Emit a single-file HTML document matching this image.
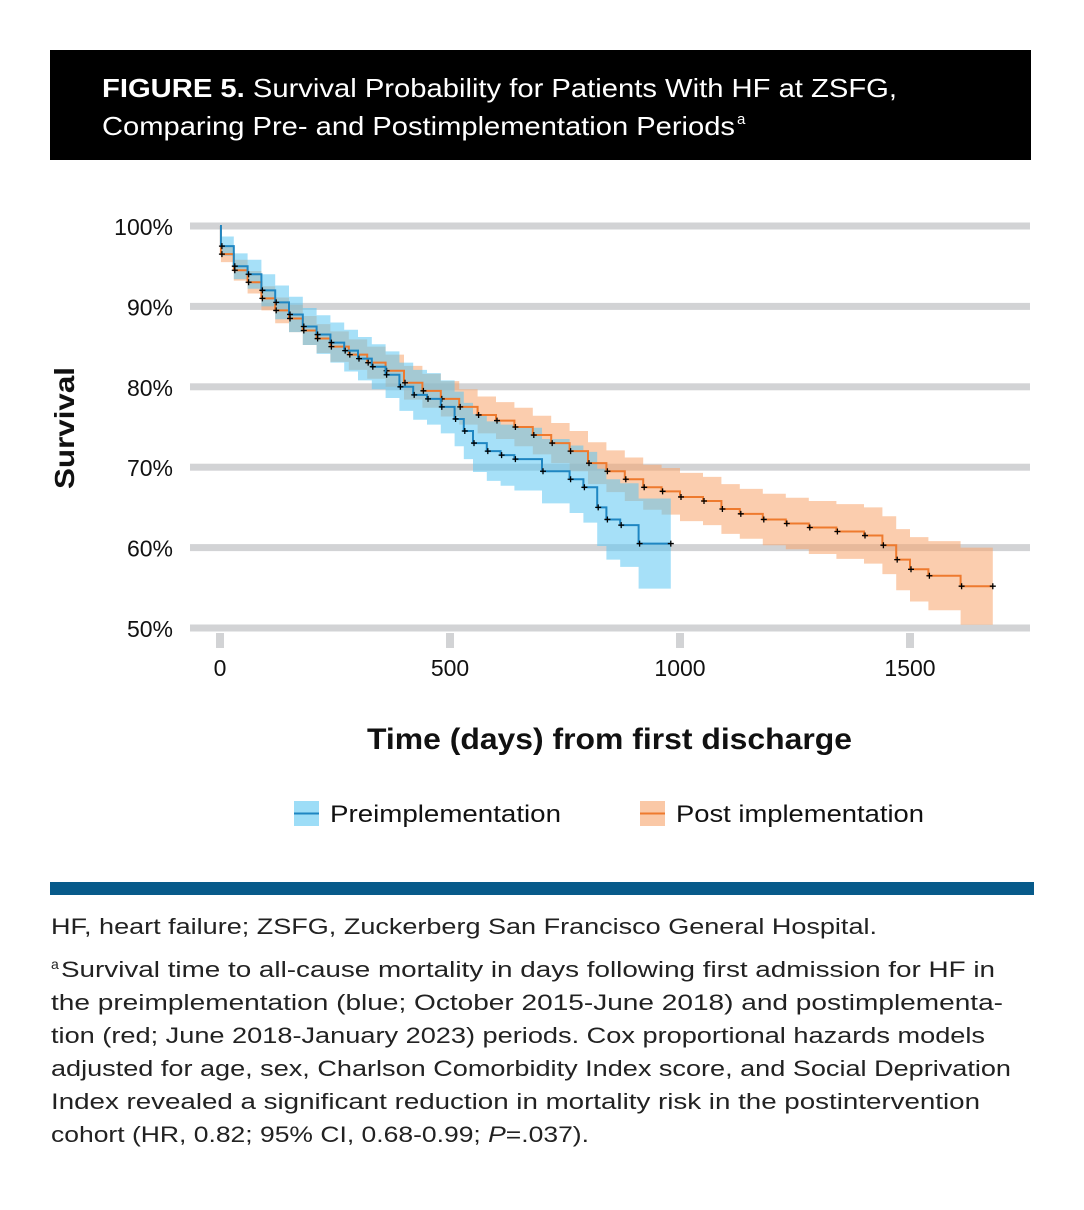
<!DOCTYPE html>
<html><head><meta charset="utf-8"><style>
body{margin:0;width:1084px;height:1210px;background:#fff;font-family:"Liberation Sans",sans-serif;position:relative;overflow:hidden}
</style></head><body>
<div style="position:absolute;left:50px;top:50px;width:981px;height:110px;background:#000"></div>
<div style="position:absolute;left:50px;top:882px;width:984px;height:13px;background:#075a8a"></div>
<svg id="chart" width="1084" height="1210" style="position:absolute;left:0;top:0" font-family="Liberation Sans, sans-serif">
<text x="102" y="97" font-size="26" fill="#fff" textLength="795" lengthAdjust="spacingAndGlyphs"><tspan font-weight="bold">FIGURE 5.</tspan> Survival Probability for Patients With HF at ZSFG,</text>
<text x="102" y="135" font-size="26" fill="#fff" textLength="633" lengthAdjust="spacingAndGlyphs">Comparing Pre- and Postimplementation Periods</text>
<text x="737" y="124" font-size="15" fill="#fff">a</text>
<g font-size="22.5" fill="#222">
<text x="51" y="934" textLength="826" lengthAdjust="spacingAndGlyphs">HF, heart failure; ZSFG, Zuckerberg San Francisco General Hospital.</text>
<text x="51" y="969" font-size="14">a</text>
<text x="61" y="977" textLength="934" lengthAdjust="spacingAndGlyphs">Survival time to all-cause mortality in days following first admission for HF in</text>
<text x="51" y="1010" textLength="952" lengthAdjust="spacingAndGlyphs">the preimplementation (blue; October 2015-June 2018) and postimplementa-</text>
<text x="51" y="1043" textLength="934" lengthAdjust="spacingAndGlyphs">tion (red; June 2018-January 2023) periods. Cox proportional hazards models</text>
<text x="51" y="1076" textLength="960" lengthAdjust="spacingAndGlyphs">adjusted for age, sex, Charlson Comorbidity Index score, and Social Deprivation</text>
<text x="51" y="1109" textLength="929" lengthAdjust="spacingAndGlyphs">Index revealed a significant reduction in mortality risk in the postintervention</text>
<text x="51" y="1142" textLength="538" lengthAdjust="spacingAndGlyphs">cohort (HR, 0.82; 95% CI, 0.68-0.99; <tspan font-style="italic">P</tspan>=.037).</text>
</g>
</svg>
<script>
const preT=[0,2,30,60,90,120,150,180,210,240,270,300,330,360,390,420,450,480,510,530,550,580,610,640,700,760,790,820,840,870,910];
const preS=[100,97.5,95,94,92,90.5,89,87.5,86.5,85.5,84.5,83.5,82.5,81.5,80,79,78.5,77.5,76,74.5,73,72,71.5,71,69.5,68.5,67.5,65,63.5,62.8,60.5];
const preHW=[0,1.2,1.6,1.8,2,2.1,2.2,2.3,2.4,2.5,2.6,2.7,2.8,2.9,3,3.1,3.2,3.3,3.4,3.5,3.6,3.7,3.8,3.9,4,4.2,4.4,4.8,5,5.2,5.6];
const preEnd=980;
const postT=[0,2,30,60,90,120,150,180,210,240,280,320,360,400,440,480,520,560,600,640,680,720,760,800,840,880,920,960,1000,1050,1090,1130,1180,1230,1280,1340,1400,1440,1470,1500,1540,1610];
const postS=[100,96.5,94.5,93,91,89.5,88.5,87,86,85,84,83,82,80.5,79.5,78.5,77.5,76.5,75.8,75,74,73,72,70.5,69.5,68.5,67.5,67,66.3,65.8,64.8,64.2,63.5,63,62.5,62,61.5,60.3,58.5,57.3,56.5,55.2];
const postHW=[0,1,1.3,1.4,1.5,1.6,1.7,1.8,1.8,1.9,1.9,2,2,2.1,2.1,2.2,2.2,2.3,2.3,2.4,2.4,2.5,2.5,2.6,2.6,2.7,2.8,2.9,3,3,3.1,3.1,3.2,3.2,3.3,3.4,3.5,3.6,3.8,4,4.3,4.8];
const postEnd=1680;
const yTicks=[100,90,80,70,60,50];
const xTicks=[0,500,1000,1500];
const X=d=>220+d*0.46, Y=s=>226+(100-s)*8.04;
const svg=document.getElementById('chart'),NS='http://www.w3.org/2000/svg';
function mk(t,a,txt){const e=document.createElementNS(NS,t);for(const k in a)e.setAttribute(k,a[k]);if(txt!=null)e.textContent=txt;svg.appendChild(e);return e;}
yTicks.forEach(v=>{
const g=mk('rect',{x:190,y:Y(v)-3.5,width:840,height:7,fill:'#d2d3d5'});


const t=mk('text',{x:173,y:Y(v)+9,'text-anchor':'end','font-size':23,fill:'#111'},v+'%');


});
xTicks.forEach(v=>{
const k=mk('rect',{x:X(v)-4,y:633,width:8,height:15,fill:'#d2d3d5'});


const t=mk('text',{x:X(v),y:676,'text-anchor':'middle','font-size':23,fill:'#111'},v);


});
function band(T,S,H,end,fill,name){
let up='',lo='';
for(let i=0;i<T.length;i++){const x1=X(T[i]),x2=X(i+1<T.length?T[i+1]:end);
up+=`L${x1},${Y(Math.min(100,S[i]+H[i]))}L${x2},${Y(Math.min(100,S[i]+H[i]))}`;
lo=`L${x2},${Y(S[i]-H[i])}L${x1},${Y(S[i]-H[i])}`+lo;}
const p=mk('path',{d:'M'+up.slice(1)+lo+'Z',fill:fill,'fill-opacity':0.55});


}
function line(T,S,end,col,name){
let d=`M${X(T[0])},${Y(S[0])}`;
for(let i=1;i<T.length;i++)d+=`H${X(T[i])}V${Y(S[i])}`;
d+=`H${X(end)}`;
const p=mk('path',{d:d,fill:'none',stroke:col,'stroke-width':2});


for(let i=1;i<T.length;i++){const x=X(T[i])+1,y=Y(S[i]);
const c=mk('path',{d:`M${x-3},${y}h6M${x},${y-3}v6`,stroke:'#000','stroke-width':1.3});

}
const x=X(end),y=Y(S[S.length-1]);
const c=mk('path',{d:`M${x-3},${y}h6M${x},${y-3}v6`,stroke:'#000','stroke-width':1.3});


}
band(postT,postS,postHW,postEnd,'#f7a46b','post-ci-band');
band(preT,preS,preHW,preEnd,'#5cc6f2','pre-ci-band');
line(postT,postS,postEnd,'#ee7a2e','post-survival-line');
line(preT,preS,preEnd,'#1f86c2','pre-survival-line');
const yl=mk('text',{x:0,y:0,transform:'translate(74,428) rotate(-90)','text-anchor':'middle','font-size':28,'font-weight':'bold',fill:'#111',textLength:122,lengthAdjust:'spacingAndGlyphs'},'Survival');


const xl=mk('text',{x:367,y:749,'font-size':30,'font-weight':'bold',fill:'#111',textLength:485,lengthAdjust:'spacingAndGlyphs'},'Time (days) from first discharge');


[[294,'#5cc6f2','#1f86c2','Preimplementation',231],[640,'#f7a46b','#ee7a2e','Post implementation',248]].forEach((L,i)=>{
const r=mk('rect',{x:L[0],y:801,width:25,height:25,fill:L[1],'fill-opacity':0.6});


const l=mk('line',{x1:L[0],x2:L[0]+25,y1:813.5,y2:813.5,stroke:L[2],'stroke-width':2});


const t=mk('text',{x:L[0]+36,y:822,'font-size':24,fill:'#111',textLength:L[4],lengthAdjust:'spacingAndGlyphs'},L[3]);


});
</script>
</body></html>
